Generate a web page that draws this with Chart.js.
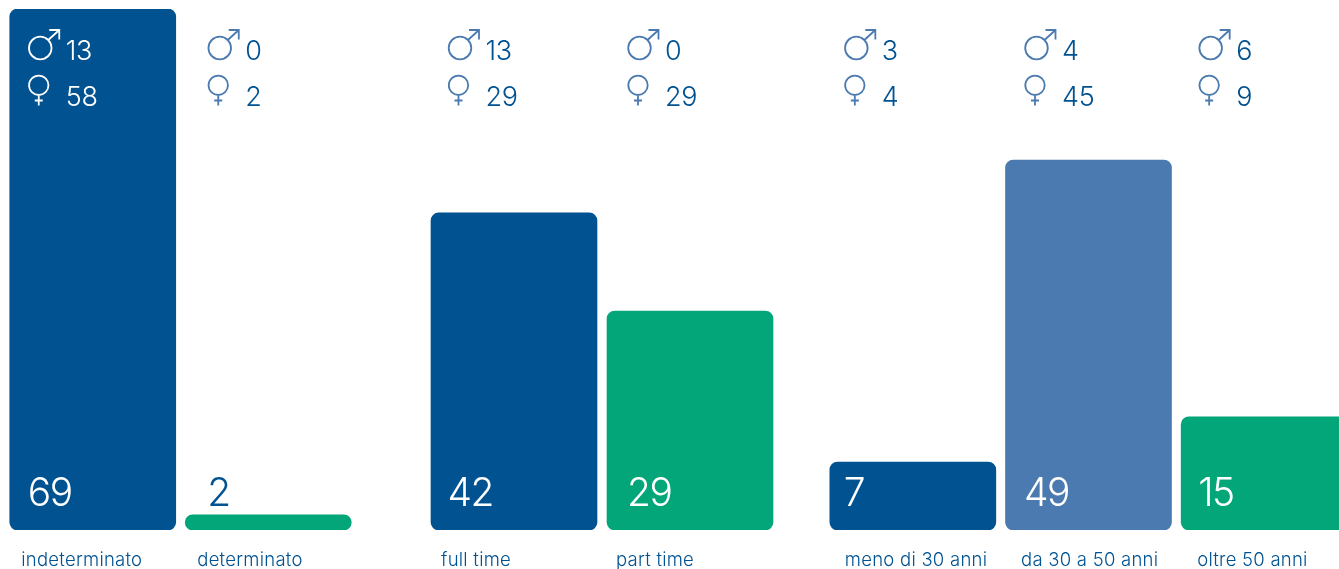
<!DOCTYPE html>
<html>
<head>
<meta charset="utf-8">
<style>
html, body { margin: 0; padding: 0; background: #fff; overflow: hidden; }
#pagina { position: relative; width: 1339px; height: 569px; overflow: hidden; }
.gruppo { position: absolute; top: 0; height: 569px; }
</style>
<script src="https://cdn.jsdelivr.net/npm/chart.js@4"></script>
</head>
<body>
<div id="pagina"></div>
<script>
const categorie = ["indeterminato", "determinato", "full time", "part time", "meno di 30 anni", "da 30 a 50 anni", "oltre 50 anni"];
// bar heights: the "meno di 30 anni" bar is drawn taller than its label of 7
const valoriBarre = [69, 2, 42, 29, 9, 49, 15];
const totali = [69, 2, 42, 29, 7, 49, 15];
const uomini = [13, 0, 13, 0, 3, 4, 6];
const donne = [58, 2, 29, 29, 4, 45, 9];
const coloriBarre = ["#005291", "#03a678", "#005291", "#03a678", "#005291", "#4a7aaf", "#03a678"];

const BLU = "#005291";
const BLU_CHIARO = "#4a7aaf";
const FONT = "Inter, sans-serif";

// where each group of bars sits on the page
const gruppi = [
    { da: 0, a: 2, left: 5, width: 351 },
    { da: 2, a: 4, left: 426, width: 352 },
    { da: 4, a: 7, left: 825, width: 527 }
];

// distance from the bar's left edge to the texts above it and to the label under it
const rientroTesto = [19, 23, 17.5, 21, 15, 19.5, 18];
const rientroEtichetta = [11.5, 12, 10, 9, 15, 15.5, 16];

function disegnaMaschio(ctx, x, colore) {
    ctx.strokeStyle = colore;
    ctx.lineWidth = 1.8;
    ctx.beginPath();
    ctx.arc(x + 11.5, 48, 11.3, 0, Math.PI * 2);
    ctx.moveTo(x + 19.5, 40);
    ctx.lineTo(x + 30.5, 30);
    ctx.moveTo(x + 20.5, 30);
    ctx.lineTo(x + 30.5, 30);
    ctx.lineTo(x + 30.5, 39.5);
    ctx.stroke();
}

function disegnaFemmina(ctx, x, colore) {
    ctx.strokeStyle = colore;
    ctx.lineWidth = 1.8;
    ctx.beginPath();
    ctx.arc(x + 10, 85.3, 9.7, 0, Math.PI * 2);
    ctx.moveTo(x + 10, 95);
    ctx.lineTo(x + 10, 105.5);
    ctx.moveTo(x + 6, 100.5);
    ctx.lineTo(x + 14, 100.5);
    ctx.stroke();
}

const testiPlugin = {
    id: "testi",
    afterDatasetsDraw(chart) {
        const ctx = chart.ctx;
        const da = chart.options.plugins.testi.da;
        const barre = chart.getDatasetMeta(0).data;
        ctx.save();
        ctx.textAlign = "left";
        ctx.textBaseline = "alphabetic";
        barre.forEach((barra, i) => {
            const n = da + i;
            const sinistra = barra.x - barra.width / 2;
            const x = sinistra + rientroTesto[n];
            // only the tall first bar lies behind the counters
            const suBarra = n === 0;
            disegnaMaschio(ctx, x, suBarra ? "#fff" : BLU_CHIARO);
            disegnaFemmina(ctx, x, suBarra ? "#fff" : BLU_CHIARO);
            ctx.fillStyle = suBarra ? "#fff" : BLU;
            ctx.font = "300 27px " + FONT;
            ctx.letterSpacing = "-0.3px";
            ctx.fillText(uomini[n], x + 37, 59.5);
            ctx.fillText(donne[n], x + 37, 105.5);
            ctx.fillStyle = n === 1 ? BLU : "#fff";
            ctx.font = "300 39px " + FONT;
            ctx.letterSpacing = "-1.5px";
            ctx.fillText(totali[n], x - 1, 506);
            ctx.fillStyle = BLU;
            ctx.font = "300 18.5px " + FONT;
            ctx.letterSpacing = "0.25px";
            ctx.fillText(categorie[n], sinistra + rientroEtichetta[n], 566);
        });
        ctx.restore();
    }
};

gruppi.forEach(g => {
    const box = document.createElement("div");
    box.className = "gruppo";
    box.style.left = g.left + "px";
    box.style.width = g.width + "px";
    const canvas = document.createElement("canvas");
    box.appendChild(canvas);
    document.getElementById("pagina").appendChild(box);

    new Chart(canvas.getContext("2d"), {
        type: "bar",
        data: {
            labels: categorie.slice(g.da, g.a),
            datasets: [{
                data: valoriBarre.slice(g.da, g.a),
                backgroundColor: coloriBarre.slice(g.da, g.a),
                borderRadius: 8,
                borderSkipped: false,
                barThickness: 166
            }]
        },
        options: {
            responsive: true,
            maintainAspectRatio: false,
            animation: false,
            layout: { padding: { top: 9, bottom: 39, left: 0, right: 0 } },
            plugins: {
                legend: { display: false },
                tooltip: { enabled: false },
                testi: { da: g.da }
            },
            scales: {
                x: { display: false },
                y: { display: false, min: 0, max: 69 }
            }
        },
        plugins: [testiPlugin]
    });
});
</script>
</body>
</html>
